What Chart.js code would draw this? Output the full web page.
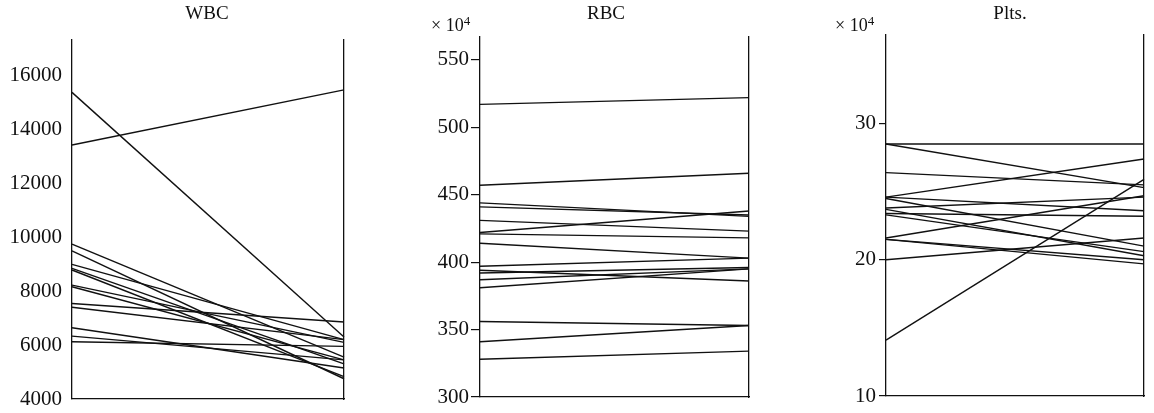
<!DOCTYPE html>
<html>
<head>
<meta charset="utf-8">
<script src="https://cdn.jsdelivr.net/npm/chart.js@4.4.0/dist/chart.umd.min.js"></script>
<style>
  body { margin: 0; background: #fff; width: 1154px; height: 413px; position: relative; overflow: hidden; font-family: "Liberation Serif", serif; color: #111; }
  canvas { position: absolute; top: 0; }
  .title { position: absolute; top: 2px; font-size: 19px; transform: translateX(-50%); white-space: nowrap; }
  .mult { position: absolute; top: 13px; font-size: 18px; white-space: nowrap; }
  .mult sup { font-size: 13px; vertical-align: 6px; }
</style>
</head>
<body>
<canvas id="wbc" width="360" height="413" style="left:0px"></canvas>
<canvas id="rbc" width="370" height="413" style="left:400px"></canvas>
<canvas id="plt" width="364" height="413" style="left:790px"></canvas>

<div class="title" style="left:207px">WBC</div>
<div class="title" style="left:606px">RBC</div>
<div class="title" style="left:1010px">Plts.</div>
<div class="mult" style="left:431px">× 10<sup>4</sup></div>
<div class="mult" style="left:835px">× 10<sup>4</sup></div>

<script>
// values per subject: first reading (left axis) and second reading (right axis)
const timepoints = ['before', 'after'];

const wbcBefore = [15360, 13410, 9740, 9490, 8990, 8840, 8780, 8220, 8160, 7540, 7400, 6640, 6330, 6120];
const wbcAfter  = [6300, 15450, 5550, 4750, 6200, 5300, 4830, 6100, 5450, 6850, 6200, 5150, 5450, 5950];
const wbcTicks  = [4000, 6000, 8000, 10000, 12000, 14000, 16000];

const rbcBefore = [517, 457, 444, 441, 431, 422, 421, 414, 397, 394, 392, 387, 381, 356, 341, 328];
const rbcAfter  = [522, 466, 434, 435, 423, 438, 418, 403, 403, 386, 396, 395, 395, 353, 353, 334];
const rbcTicks  = [300, 350, 400, 450, 500, 550];

const pltBefore = [28.5, 28.5, 26.4, 24.6, 24.6, 24.5, 23.8, 23.7, 23.4, 23.3, 21.6, 21.5, 21.5, 20.0, 14.1];
const pltAfter  = [28.5, 25.3, 25.5, 27.4, 23.6, 21.0, 24.6, 20.3, 23.2, 20.6, 24.7, 19.7, 20.0, 21.6, 25.9];
const pltTicks  = [10, 20, 30];

Chart.defaults.font.family = '"Liberation Serif", serif';
Chart.defaults.color = '#111';

const makePanel = (id, before, after, ticks, cfg) => {
    const datasets = before.map((v, i) => ({
        data: [v, after[i]],
        borderColor: '#111',
        borderWidth: 1.4,
        pointRadius: 0,
        tension: 0,
        clip: false
    }));
    const ctx = document.getElementById(id).getContext('2d');
    return new Chart(ctx, {
        type: 'line',
        data: { labels: timepoints, datasets: datasets },
        options: {
            responsive: false,
            animation: false,
            events: [],
            layout: { padding: { top: cfg.top, right: cfg.right, left: 0, bottom: 0 } },
            plugins: { legend: { display: false }, tooltip: { enabled: false } },
            scales: {
                x: {
                    offset: false,
                    ticks: { display: false },
                    grid: { display: false },
                    border: { display: true, color: '#111', width: 1.3 },
                    afterFit: (s) => { s.height = cfg.xh; }
                },
                y: {
                    min: ticks[0],
                    max: cfg.max,
                    afterBuildTicks: (s) => { s.ticks = ticks.map(v => ({ value: v })); },
                    ticks: { font: { size: 21 }, padding: cfg.pad, color: '#111', callback: (v) => String(v) },
                    grid: { display: cfg.tickLen > 0, drawOnChartArea: false, drawTicks: cfg.tickLen > 0, tickLength: cfg.tickLen, color: '#111', lineWidth: 1.2 },
                    border: { display: true, color: '#111', width: 1.3 },
                    afterFit: (s) => { s.width = cfg.yw; s.paddingTop = 0; s.paddingBottom = 0; }
                },
                y2: {
                    position: 'right',
                    ticks: { display: false },
                    grid: { display: false },
                    border: { display: true, color: '#111', width: 1.3 },
                    afterFit: (s) => { s.width = 0; s.paddingTop = 0; s.paddingBottom = 0; }
                }
            }
        }
    });
};

const wbcChart = makePanel('wbc', wbcBefore, wbcAfter, wbcTicks, { max: 17300, top: 40, right: 16, xh: 14, yw: 72, pad: 10, tickLen: 0 });
const rbcChart = makePanel('rbc', rbcBefore, rbcAfter, rbcTicks, { max: 567, top: 37, right: 21, xh: 16, yw: 80, pad: 2, tickLen: 9 });
const pltChart = makePanel('plt', pltBefore, pltAfter, pltTicks, { max: 36.5, top: 35, right: 10, xh: 17, yw: 96, pad: 3, tickLen: 7 });
</script>
</body>
</html>
